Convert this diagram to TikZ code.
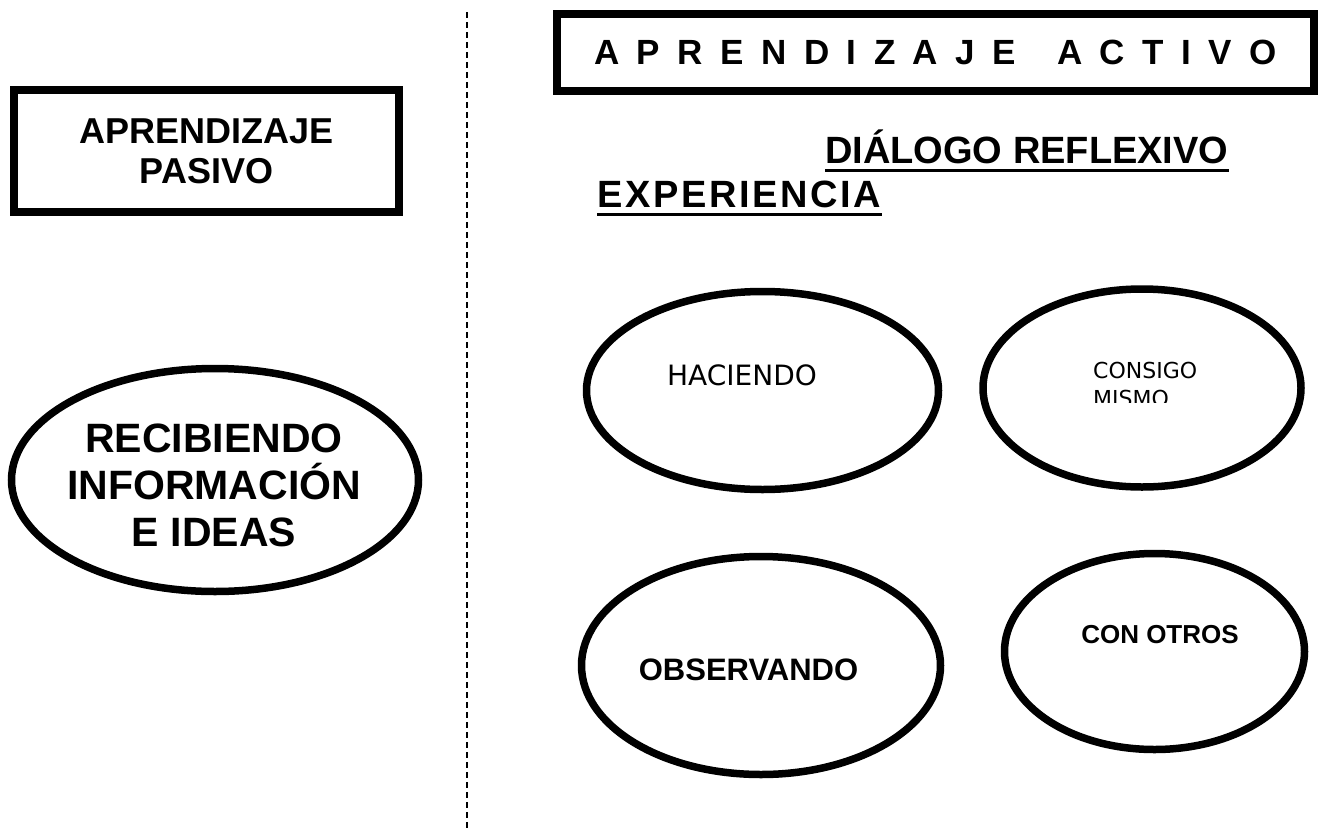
\documentclass[tikz,border=0pt]{standalone}
\usepackage{fontspec}
\setmainfont{Liberation Sans}
\newfontfamily\tah{DejaVu Sans}
\usetikzlibrary{shapes.geometric}
\begin{document}
\begin{tikzpicture}[x=1pt,y=-1pt,
  frame/.style={draw, line width=8pt, inner sep=0pt},
  oval/.style={draw, ellipse, line width=7.5pt, inner sep=0pt},
  lab/.style={inner sep=0pt, anchor=base},
  uline/.style={line width=3pt}]
\useasboundingbox (0,0) rectangle (1325,830);
\coordinate (d1) at (467,12);
\coordinate (d2) at (467,830);
\draw[line width=2pt, dash pattern=on 6pt off 4pt] (d1) -- (d2);
% boxes
\node[frame, minimum width=385pt, minimum height=122pt, align=center,
  font=\bfseries\fontsize{36}{40}\selectfont] (pas) at (206.5,151) {APRENDIZAJE\\PASIVO};
\node[frame, minimum width=757pt, minimum height=77pt,
  font=\bfseries\fontsize{35}{36}\selectfont\addfontfeature{LetterSpace=50}] (act) at (935.5,52.5) {APRENDIZAJE \hspace{14pt}ACTIVO};
% headings
\node[lab, anchor=base west, font=\bfseries\fontsize{38}{40}\selectfont] (dia) at (825,163) {DIÁLOGO REFLEXIVO};
\draw[uline] ([yshift=-7pt]dia.base west) -- ([yshift=-7pt]dia.base east);
\node[lab, anchor=base west, font=\bfseries\fontsize{38}{40}\selectfont\addfontfeature{LetterSpace=7}] (exp) at (597,207) {EXPERIENCIA};
\draw[uline] ([yshift=-7pt]exp.base west) -- ([yshift=-7pt]exp.base east);
% ellipses
\node[oval, minimum width=407pt, minimum height=223pt] (rec) at (215,480) {};
\node[inner sep=0pt, align=center, font=\bfseries\fontsize{41}{47}\selectfont] (rect) at (214,485) {RECIBIENDO\\INFORMACIÓN\\E IDEAS};
\node[oval, minimum width=352pt, minimum height=198pt] (hac) at (762.5,390.5) {};
\node[lab, font=\tah\fontsize{28}{30}\selectfont] (hact) at (742,385) {HACIENDO};
\node[oval, minimum width=318pt, minimum height=198pt] (con) at (1142,388) {};
\begin{scope}
\clip (1000,340) rectangle (1300,402);
\node[lab, anchor=base west, font=\tah\fontsize{22}{26}\selectfont] (cont) at (1093,378) {CONSIGO};
\node[lab, anchor=base west, font=\tah\fontsize{22}{26}\selectfont] (mist) at (1093,406) {MISMO};
\end{scope}
\node[oval, minimum width=359pt, minimum height=218pt] (obs) at (761,665.5) {};
\node[lab, font=\bfseries\fontsize{31}{34}\selectfont] (obst) at (748.5,680) {OBSERVANDO};
\node[oval, minimum width=300pt, minimum height=196pt] (otr) at (1154.5,651.5) {};
\node[lab, font=\bfseries\fontsize{26}{30}\selectfont] (otrt) at (1160,643) {CON OTROS};
\end{tikzpicture}
\end{document}
